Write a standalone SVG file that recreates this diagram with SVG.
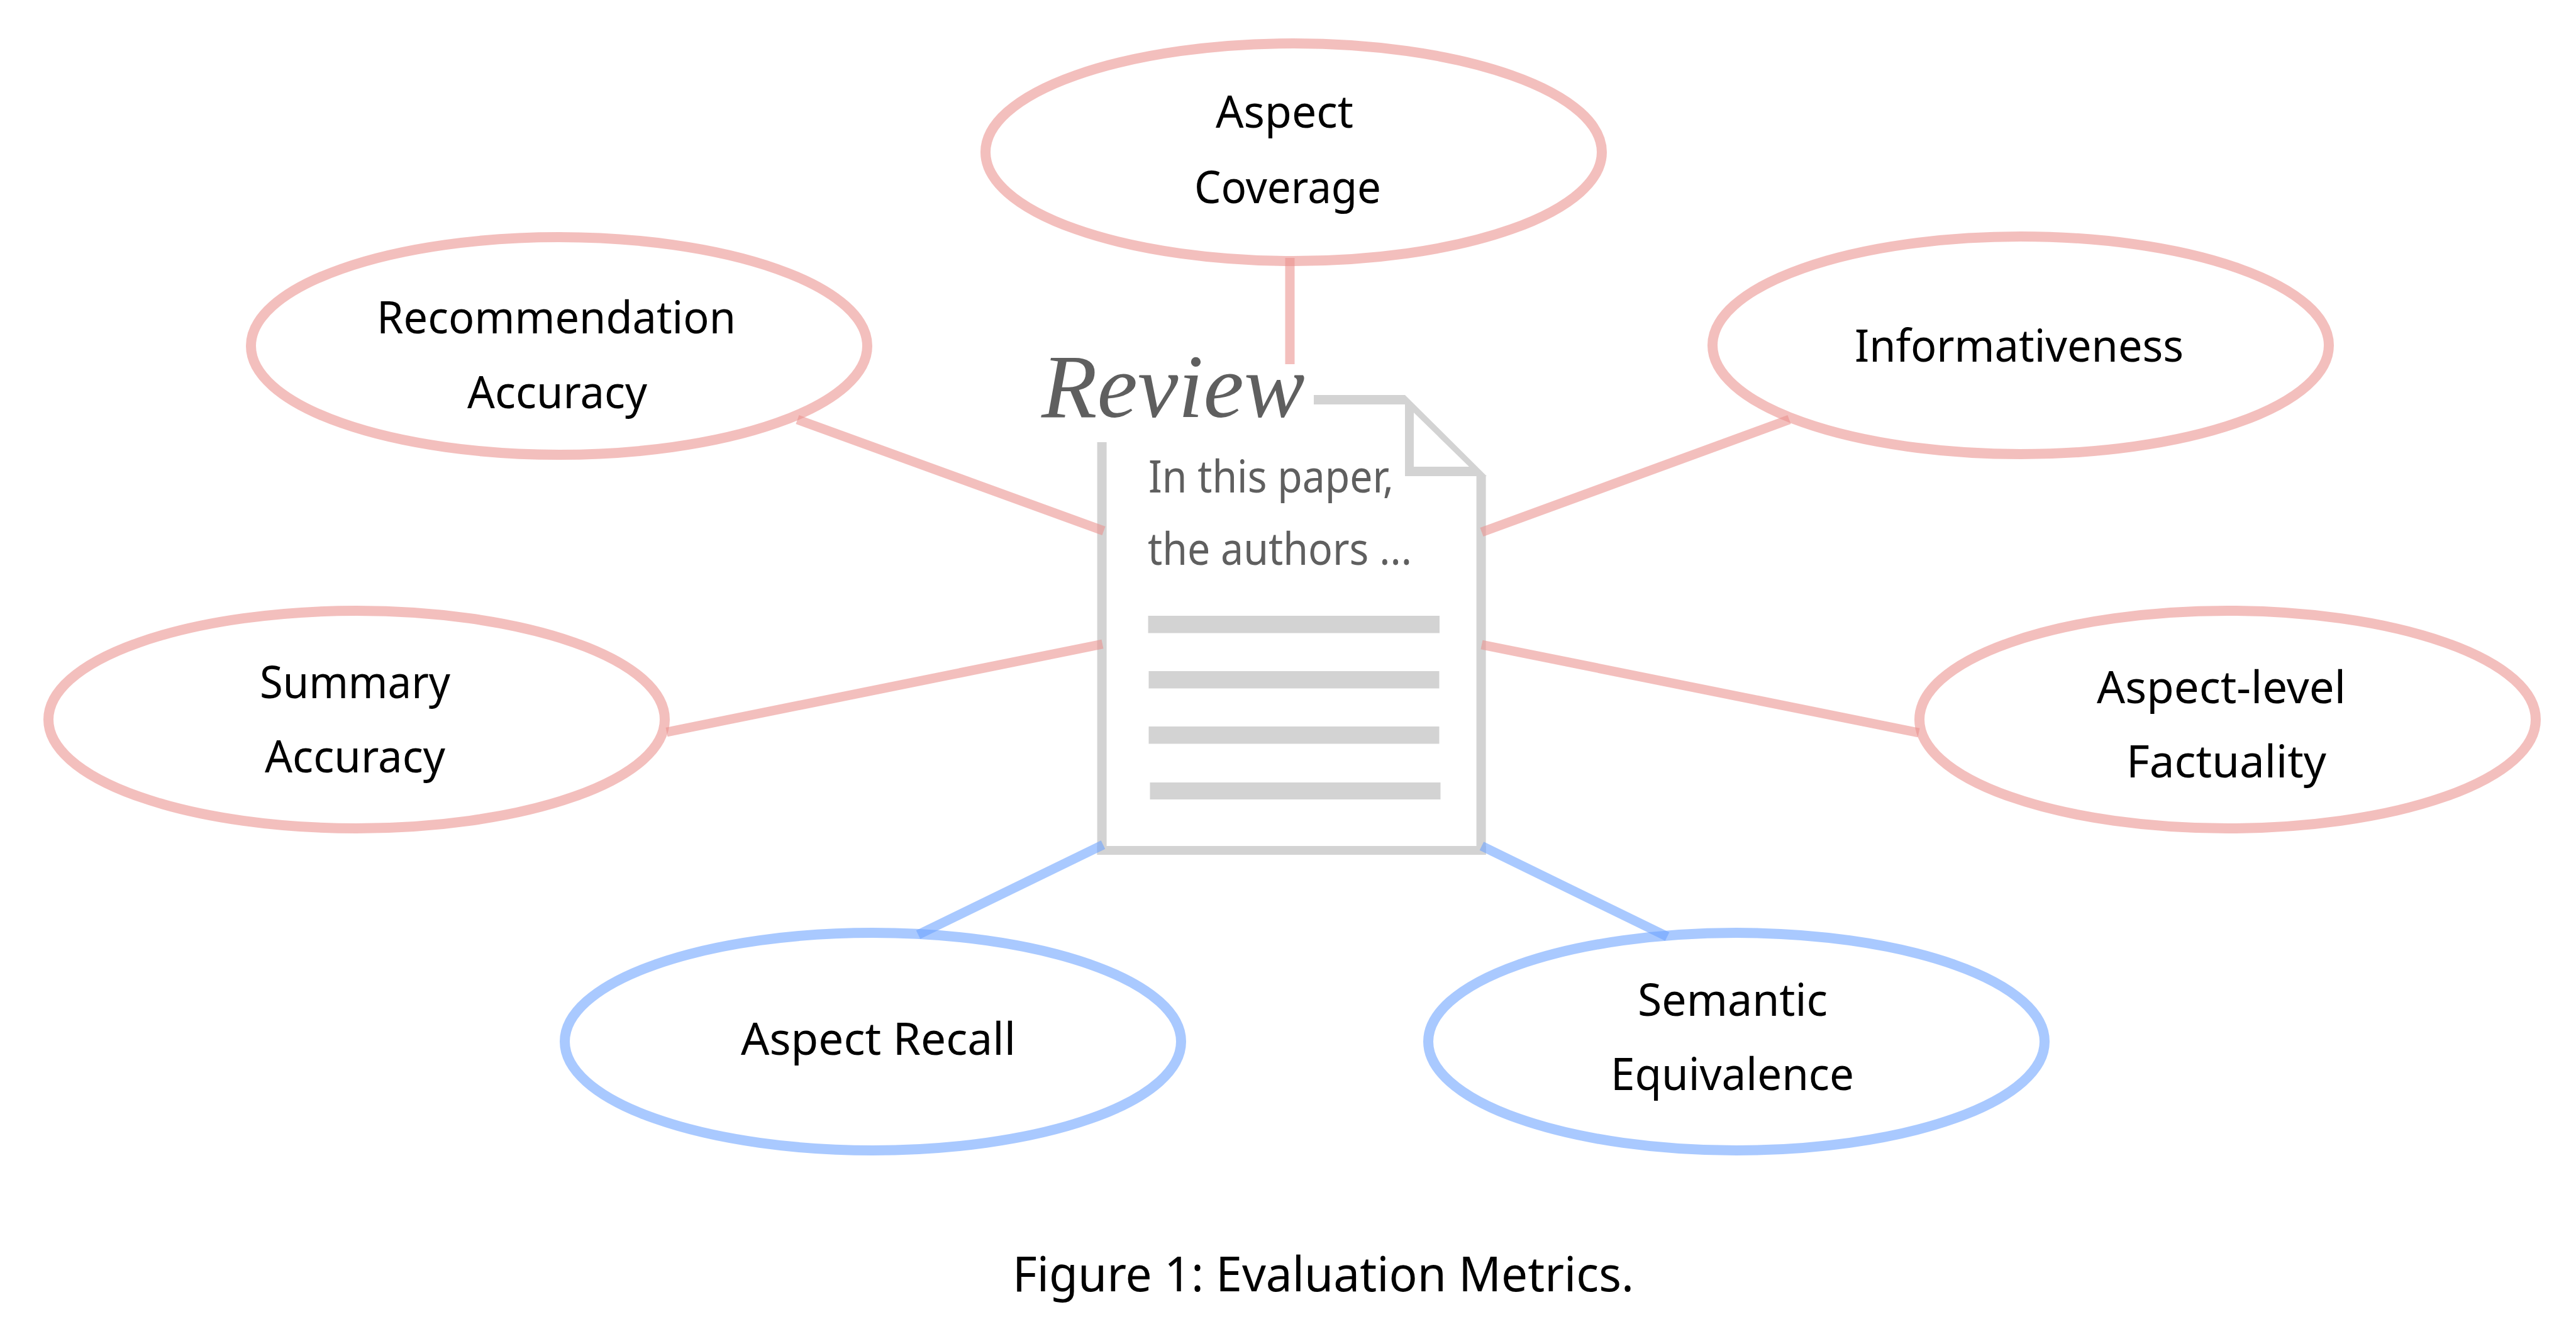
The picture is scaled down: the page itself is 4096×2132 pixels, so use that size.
<svg xmlns="http://www.w3.org/2000/svg" width="4096" height="2132" viewBox="0 0 4096 2132">
<style>
.n{fill:none;stroke-width:16}
.r{stroke:#ea918d;stroke-opacity:.58}
.b{stroke:#6ba2ff;stroke-opacity:.58}
.c{stroke-width:15;fill:none}
.d{fill:#d3d3d3}
text{font-family:"Noto Sans","Open Sans","Liberation Sans",sans-serif;font-size:71px;fill:#000}
.t{fill:#5f5f5f}
</style>
<rect width="4096" height="2132" fill="#fff"/>
<g id="document">
<rect class="d" x="1744.6" y="703" width="15" height="656"/>
<rect class="d" x="2347.6" y="757" width="15" height="602"/>
<rect class="d" x="1744.6" y="1345" width="618" height="14"/>
<rect class="d" x="2089" y="628" width="145" height="15"/>
<path class="d" fill-rule="evenodd" d="M2234 628L2364 757H2234ZM2248 656V742H2336Z"/>
<rect class="d" x="1825.6" y="979" width="463.4" height="27.5"/>
<rect class="d" x="1826.5" y="1067" width="462" height="27.5"/>
<rect class="d" x="1826.5" y="1155" width="462" height="27.5"/>
<rect class="d" x="1828.5" y="1244" width="462" height="27"/>
<text class="t" x="1656" y="663" style="font-family:'Liberation Serif',serif;font-style:italic;font-size:145px">Review</text>
<text class="t" x="1826" y="783" textLength="390" lengthAdjust="spacingAndGlyphs">In this paper,</text>
<text class="t" x="1825" y="898" textLength="420" lengthAdjust="spacingAndGlyphs">the authors ...</text>
</g>
<g id="aspect-coverage"><ellipse class="n r" cx="2057" cy="242" rx="490" ry="173"/>
<text x="1933" y="203" textLength="219" lengthAdjust="spacingAndGlyphs">Aspect</text>
<text x="1899" y="323" textLength="297" lengthAdjust="spacingAndGlyphs">Coverage</text></g>
<g id="recommendation-accuracy"><ellipse class="n r" cx="889" cy="550" rx="490" ry="173"/>
<text x="599" y="530" textLength="571" lengthAdjust="spacingAndGlyphs">Recommendation</text>
<text x="743" y="649" textLength="286" lengthAdjust="spacingAndGlyphs">Accuracy</text></g>
<g id="informativeness"><ellipse class="n r" cx="3213" cy="549" rx="490" ry="173"/>
<text x="2949" y="575" textLength="523" lengthAdjust="spacingAndGlyphs">Informativeness</text></g>
<g id="summary-accuracy"><ellipse class="n r" cx="567" cy="1144" rx="490" ry="173"/>
<text x="413" y="1110" textLength="303" lengthAdjust="spacingAndGlyphs">Summary</text>
<text x="421" y="1228" textLength="287" lengthAdjust="spacingAndGlyphs">Accuracy</text></g>
<g id="aspect-level-factuality"><ellipse class="n r" cx="3542" cy="1144" rx="490" ry="173"/>
<text x="3334" y="1118" textLength="396" lengthAdjust="spacingAndGlyphs">Aspect-level</text>
<text x="3381" y="1236" textLength="318" lengthAdjust="spacingAndGlyphs">Factuality</text></g>
<g id="aspect-recall"><ellipse class="n b" cx="1388" cy="1656" rx="490" ry="173"/>
<text x="1178" y="1677" textLength="437" lengthAdjust="spacingAndGlyphs">Aspect Recall</text></g>
<g id="semantic-equivalence"><ellipse class="n b" cx="2761" cy="1656" rx="490" ry="173"/>
<text x="2604" y="1615" textLength="302" lengthAdjust="spacingAndGlyphs">Semantic</text>
<text x="2561" y="1733" textLength="387" lengthAdjust="spacingAndGlyphs">Equivalence</text></g>
<g id="connectors">
<line class="c r" x1="2051" y1="410" x2="2051" y2="579"/>
<line class="c r" x1="1268" y1="667" x2="1755" y2="844"/>
<line class="c r" x1="2845" y1="667" x2="2356" y2="846"/>
<line class="c r" x1="1060" y1="1164" x2="1753" y2="1024"/>
<line class="c r" x1="3051" y1="1165" x2="2356" y2="1025"/>
<line class="c b" x1="1460" y1="1486" x2="1754" y2="1343"/>
<line class="c b" x1="2651" y1="1489" x2="2356" y2="1345"/>
</g>
<text id="caption" x="1610" y="2053" textLength="988" lengthAdjust="spacingAndGlyphs" style="font-size:76px">Figure 1: Evaluation Metrics.</text>
</svg>
